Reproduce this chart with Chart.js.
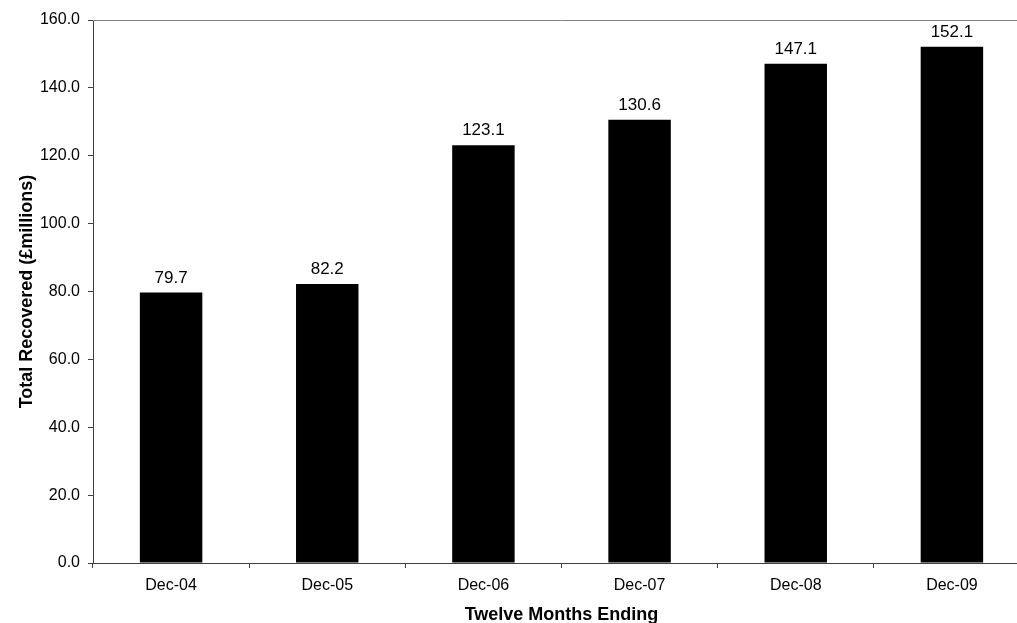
<!DOCTYPE html>
<html>
<head>
<meta charset="utf-8">
<script src="https://cdn.jsdelivr.net/npm/chart.js@4/dist/chart.umd.min.js"></script>
<style>
  html, body { margin: 0; padding: 0; overflow: hidden; background: #fff; }
  #wrap { width: 1017px; height: 623px; overflow: hidden; }
</style>
</head>
<body>
<div id="wrap"><canvas id="c" width="1030" height="623"></canvas></div>
<script>
// Chart values
const categories = ['Dec-04', 'Dec-05', 'Dec-06', 'Dec-07', 'Dec-08', 'Dec-09'];
const recovered = [79.7, 82.2, 123.1, 130.6, 147.1, 152.1];
const yTicks = [0, 20, 40, 60, 80, 100, 120, 140, 160];

const fontFamily = 'Arial, "Liberation Sans", sans-serif';

// Draw the value above each bar
const valueLabels = {
    id: 'valueLabels',
    afterDatasetsDraw(chart) {
        const ctx = chart.ctx;
        const meta = chart.getDatasetMeta(0);
        ctx.save();
        ctx.font = '17px ' + fontFamily;
        ctx.fillStyle = '#000';
        ctx.textAlign = 'center';
        ctx.textBaseline = 'alphabetic';
        meta.data.forEach((bar, i) => {
            ctx.fillText(recovered[i].toFixed(1), bar.x, bar.y - 10);
        });
        ctx.restore();
    }
};

// Grey frame line on top of the plot area
const topBorder = {
    id: 'topBorder',
    beforeDatasetsDraw(chart) {
        const a = chart.chartArea;
        const ctx = chart.ctx;
        ctx.save();
        ctx.strokeStyle = '#808080';
        ctx.lineWidth = 1;
        ctx.beginPath();
        ctx.moveTo(a.left, a.top + 0.5);
        ctx.lineTo(a.right, a.top + 0.5);
        ctx.stroke();
        ctx.restore();
    }
};

new Chart(document.getElementById('c'), {
    type: 'bar',
    data: {
        labels: categories,
        datasets: [{
            data: recovered,
            backgroundColor: '#000',
            borderWidth: 0,
            categoryPercentage: 0.4,
            barPercentage: 1.0
        }]
    },
    options: {
        responsive: false,
        animation: false,
        layout: { padding: { top: 20, right: 0, left: 0, bottom: 0 } },
        plugins: {
            legend: { display: false },
            tooltip: { enabled: false }
        },
        scales: {
            x: {
                offset: true,
                grid: {
                    offset: true,
                    drawOnChartArea: false,
                    drawTicks: true,
                    tickLength: 5,
                    color: '#404040'
                },
                border: { display: true, color: '#404040', width: 1 },
                ticks: {
                    color: '#000',
                    font: { family: fontFamily, size: 16 },
                    padding: 8,
                    maxRotation: 0
                },
                title: {
                    display: true,
                    text: 'Twelve Months Ending',
                    color: '#000',
                    font: { family: fontFamily, size: 18, weight: 'bold' },
                    padding: { top: 0, bottom: -3 }
                },
                afterFit(scale) { scale.height = 60; }
            },
            y: {
                min: 0,
                max: 160,
                afterBuildTicks(scale) {
                    scale.ticks = yTicks.map(v => ({ value: v }));
                },
                grid: {
                    drawOnChartArea: false,
                    drawTicks: true,
                    tickLength: 5,
                    color: '#404040'
                },
                border: { display: true, color: '#404040', width: 1 },
                ticks: {
                    color: '#000',
                    font: { family: fontFamily, size: 16 },
                    padding: 8,
                    callback: v => Number(v).toFixed(1)
                },
                title: {
                    display: true,
                    text: 'Total Recovered (£millions)',
                    color: '#000',
                    font: { family: fontFamily, size: 18, weight: 'bold' },
                    padding: { top: 16, bottom: 0 }
                },
                afterFit(scale) { scale.width = 93; }
            }
        }
    },
    plugins: [valueLabels, topBorder]
});
</script>
</body>
</html>
